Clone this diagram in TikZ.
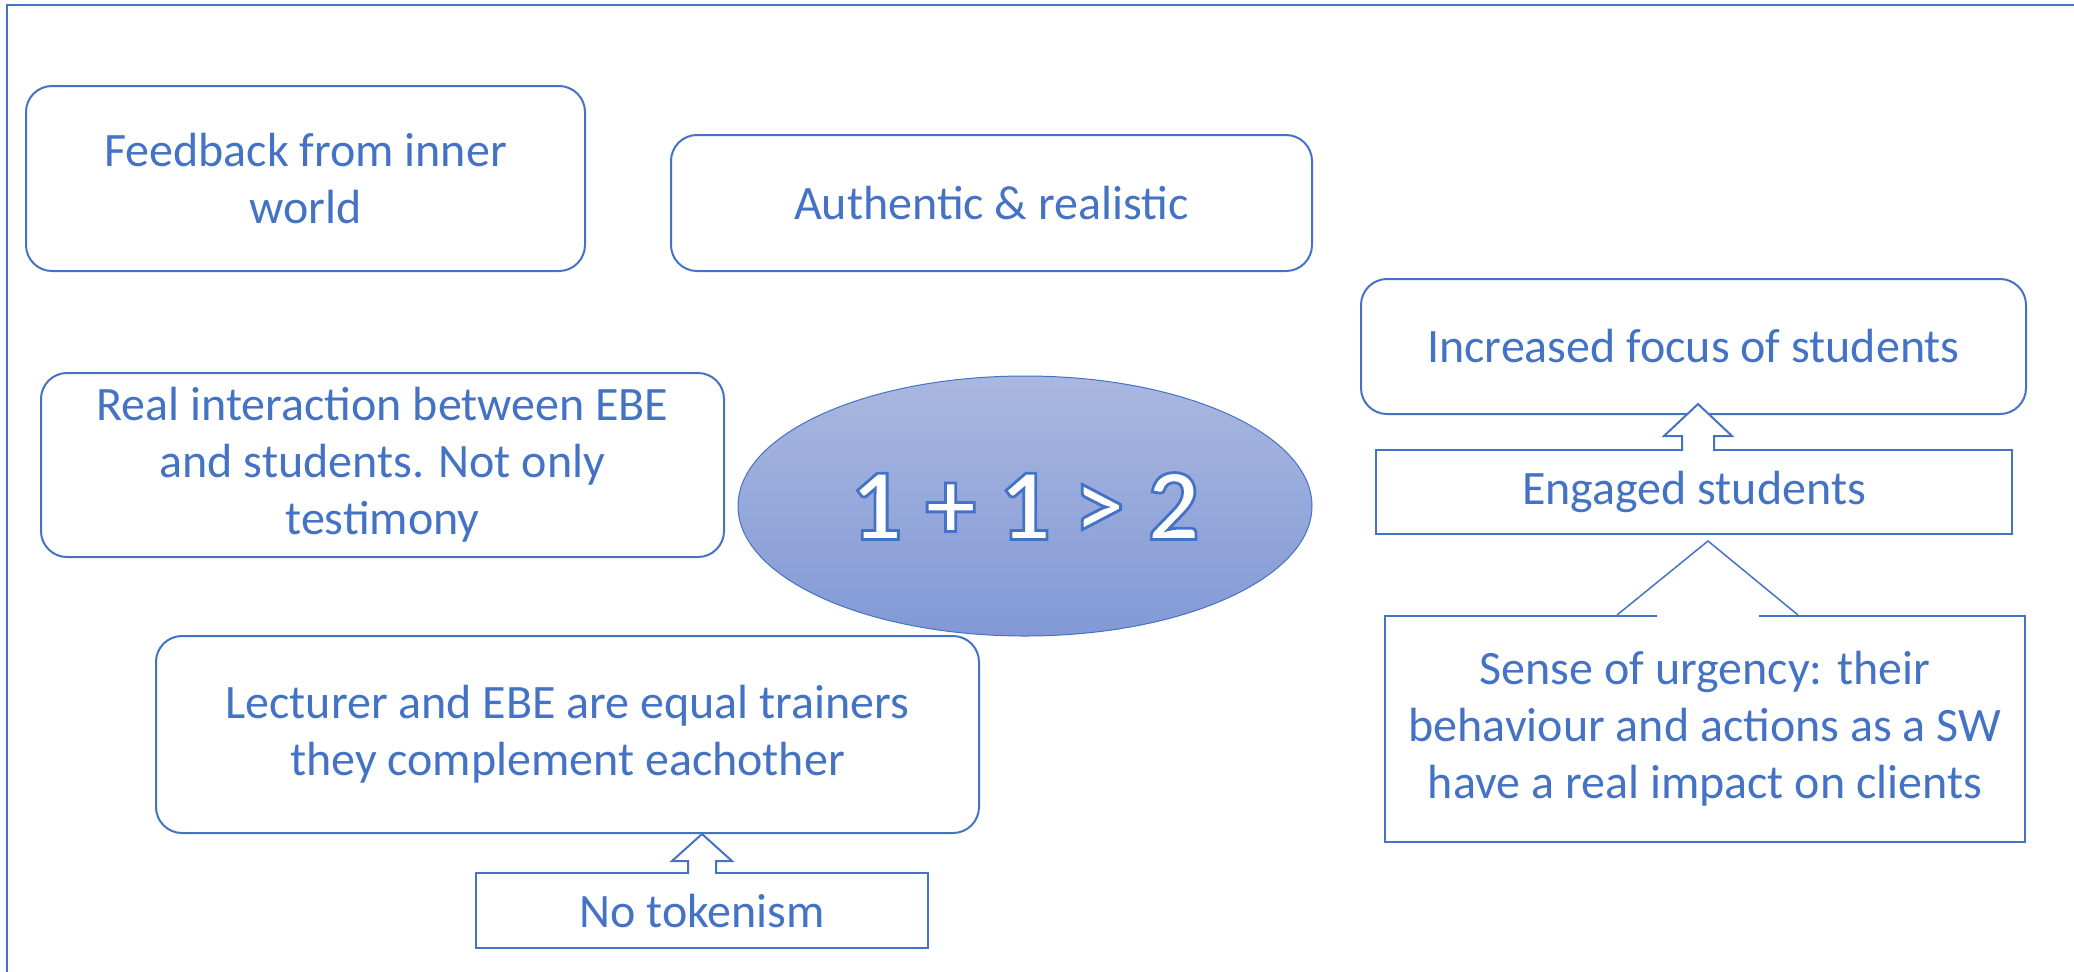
\documentclass[tikz,border=0pt]{standalone}
\usepackage{fontspec}
\setmainfont{Carlito}
\usetikzlibrary{calc,shapes.geometric,positioning}
\definecolor{accblue}{HTML}{4472C4}
\definecolor{ovaltop}{HTML}{AAB8E0}
\definecolor{ovalbot}{HTML}{8299D6}
% white text with a blue outline (pdf text render mode 2)
\newcommand{\outlinetext}[1]{\special{pdf:literal direct 2 Tr 1.4 w 0.267 0.447 0.769 RG}#1\special{pdf:literal direct 0 Tr}}

\tikzset{
  roundbox/.style={draw=accblue, line width=1pt, rounded corners=13pt, text=accblue,
    align=center, inner sep=0pt, font=\fontsize{24}{28.5}\selectfont},
  flatbox/.style={roundbox, rounded corners=0pt},
  blockarrow/.style={draw=accblue, line width=1pt, fill=white, line join=miter}
}

\begin{document}
\begin{tikzpicture}[x=0.5pt,y=-0.5pt]
  \useasboundingbox (0,0) rectangle (2074,971);
  \clip (0,0) rectangle (2074,971);
  % outer frame (cut off on the right and at the bottom)
  \draw[accblue, line width=1pt] (7,1000) -- (7,5) -- (2100,5);

  % left column
  \node[roundbox, minimum width=279.5pt, minimum height=92.5pt] (feedback) at (305.5,178.5) {Feedback from inner\\world};
  \node[roundbox, minimum width=320.5pt, minimum height=68pt] (authentic) at (991.5,203) {Authentic \& realistic};
  \node[roundbox, minimum width=341.5pt, minimum height=92pt] (interaction) at (382.5,465) {Real interaction between EBE\\and students. Not only\\testimony};
  \node[roundbox, minimum width=411.5pt, minimum height=98.5pt] (lecturer) at (567.5,734.5) {Lecturer and EBE are equal trainers\\they complement eachother};
  \node[flatbox, minimum width=226pt, minimum height=37.5pt] (notoken) at (702,910.5) {No tokenism};

  % centre oval
  \node[ellipse, draw=accblue, line width=0.5pt, top color=ovaltop, bottom color=ovalbot,
    minimum width=287pt, minimum height=130pt, inner sep=0pt, text=white,
    font=\fontsize{51}{60}\selectfont\bfseries] (oval) at (1025,506) {\outlinetext{1 + 1 > 2}};

  % right column
  \node[roundbox, minimum width=332.5pt, minimum height=67.5pt] (increased) at (1693.5,346.5) {Increased focus of students};
  \node[flatbox, minimum width=318pt, minimum height=42pt] (engaged) at (1694,492) {Engaged students};
  \node[flatbox, minimum width=320pt, minimum height=113pt] (sense) at (1705,729) {Sense of urgency: their\\behaviour and actions as a SW\\have a real impact on clients};

  % block arrows
  \draw[blockarrow] ($(notoken.north)+(-14,2)$) -- ($(notoken.north)+(-14,-11)$) -- ($(notoken.north)+(-30,-11)$)
    -- (notoken.north |- lecturer.south) -- ($(notoken.north)+(30,-11)$) -- ($(notoken.north)+(14,-11)$) -- ($(notoken.north)+(14,2)$);
  \draw[blockarrow] ($(engaged.north)+(-12,2)$) -- ($(engaged.north)+(-12,-13)$) -- ($(engaged.north)+(-30,-13)$)
    -- ($(engaged.north)+(4,-45)$) -- ($(engaged.north)+(38,-13)$) -- ($(engaged.north)+(20,-13)$) -- ($(engaged.north)+(20,2)$);

  % wedge of the callout
  \draw[white, line width=2pt] ($(sense.north)+(-48,0)$) -- ($(sense.north)+(54,0)$);
  \draw[accblue, line width=0.75pt] ($(sense.north)+(-88,0)$) -- ($(engaged.south)+(14,6)$) -- ($(sense.north)+(93,0)$);
\end{tikzpicture}
\end{document}
